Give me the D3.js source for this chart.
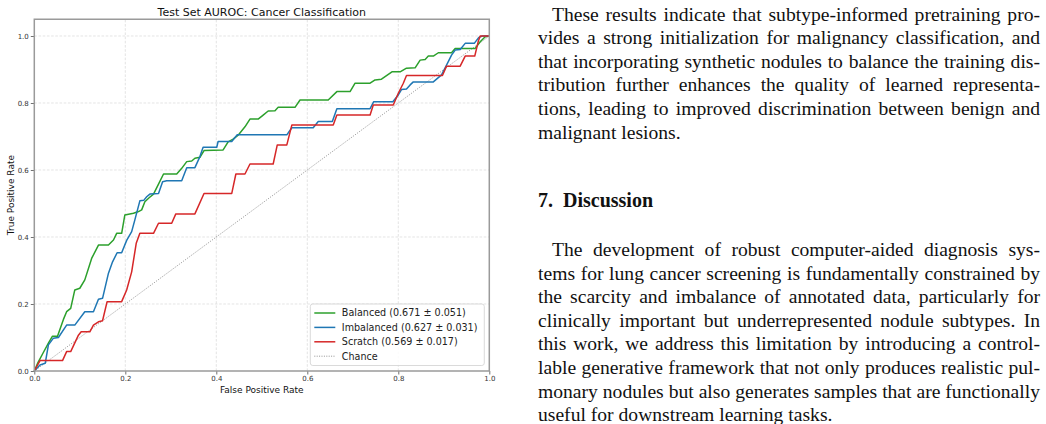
<!DOCTYPE html>
<html>
<head>
<meta charset="utf-8">
<script src="https://cdn.jsdelivr.net/npm/d3@7"></script>
<style>
  body { margin: 0; background: #fff; }
  svg { display: block; }
</style>
</head>
<body>
<svg width="1046" height="424"></svg>
<script>
// ROC curves (fpr, tpr)
var balancedFpr = [0, 0.008, 0.019, 0.031, 0.040, 0.051, 0.064, 0.071, 0.080, 0.089, 0.100, 0.111, 0.126, 0.141, 0.163, 0.174, 0.181, 0.192, 0.199, 0.218, 0.229, 0.236, 0.243, 0.253, 0.262, 0.273, 0.284, 0.313, 0.324, 0.335, 0.346, 0.353, 0.364, 0.373, 0.415, 0.426, 0.437, 0.448, 0.463, 0.474, 0.492, 0.503, 0.514, 0.529, 0.536, 0.573, 0.584, 0.646, 0.665, 0.694, 0.705, 0.738, 0.749, 0.763, 0.786, 0.804, 0.818, 0.837, 0.848, 0.859, 0.866, 0.877, 0.888, 0.917, 0.925, 0.969, 0.980, 0.991, 1];
var balancedTpr = [0, 0.025, 0.053, 0.083, 0.104, 0.104, 0.154, 0.177, 0.187, 0.242, 0.247, 0.272, 0.336, 0.376, 0.376, 0.391, 0.411, 0.411, 0.466, 0.471, 0.476, 0.481, 0.505, 0.518, 0.528, 0.558, 0.588, 0.588, 0.605, 0.625, 0.627, 0.635, 0.638, 0.658, 0.660, 0.684, 0.692, 0.704, 0.729, 0.752, 0.752, 0.764, 0.776, 0.777, 0.787, 0.787, 0.809, 0.809, 0.834, 0.834, 0.859, 0.859, 0.869, 0.871, 0.893, 0.893, 0.904, 0.905, 0.928, 0.930, 0.940, 0.940, 0.950, 0.950, 0.963, 0.963, 0.983, 0.998, 1];

var imbalancedFpr = [0, 0.0125, 0.024, 0.031, 0.042, 0.053, 0.071, 0.089, 0.111, 0.130, 0.141, 0.150, 0.163, 0.172, 0.182, 0.192, 0.203, 0.214, 0.221, 0.232, 0.241, 0.247, 0.254, 0.273, 0.282, 0.291, 0.324, 0.335, 0.353, 0.364, 0.371, 0.401, 0.404, 0.434, 0.446, 0.555, 0.566, 0.613, 0.624, 0.655, 0.665, 0.738, 0.746, 0.788, 0.800, 0.807, 0.818, 0.826, 0.833, 0.877, 0.895, 0.906, 0.917, 0.925, 0.936, 0.947, 0.967, 0.977, 0.985, 1];
var imbalancedTpr = [0, 0.018, 0.023, 0.078, 0.098, 0.100, 0.137, 0.137, 0.177, 0.177, 0.214, 0.217, 0.292, 0.326, 0.353, 0.353, 0.390, 0.416, 0.451, 0.508, 0.510, 0.520, 0.528, 0.530, 0.565, 0.568, 0.568, 0.607, 0.607, 0.640, 0.668, 0.668, 0.685, 0.685, 0.705, 0.705, 0.726, 0.726, 0.745, 0.745, 0.783, 0.783, 0.804, 0.804, 0.824, 0.840, 0.842, 0.854, 0.863, 0.863, 0.884, 0.913, 0.943, 0.958, 0.960, 0.978, 0.978, 0.996, 1, 1];

var scratchFpr = [0, 0.0125, 0.062, 0.071, 0.080, 0.097, 0.103, 0.122, 0.130, 0.141, 0.150, 0.160, 0.192, 0.203, 0.214, 0.224, 0.232, 0.262, 0.273, 0.302, 0.311, 0.353, 0.373, 0.434, 0.443, 0.463, 0.474, 0.525, 0.534, 0.555, 0.566, 0.657, 0.665, 0.738, 0.745, 0.789, 0.800, 0.811, 0.818, 0.897, 0.906, 0.936, 0.947, 0.968, 0.976, 0.980, 1];
var scratchTpr = [0, 0.031, 0.031, 0.058, 0.058, 0.107, 0.117, 0.117, 0.137, 0.147, 0.150, 0.207, 0.207, 0.242, 0.296, 0.381, 0.411, 0.411, 0.441, 0.441, 0.469, 0.469, 0.530, 0.530, 0.588, 0.588, 0.618, 0.618, 0.675, 0.675, 0.734, 0.734, 0.764, 0.764, 0.794, 0.794, 0.829, 0.859, 0.882, 0.882, 0.910, 0.910, 0.940, 0.940, 0.985, 1, 1];

var seriesNames = ["Balanced", "Imbalanced", "Scratch"];
var seriesAuc = ["0.671 ± 0.051", "0.627 ± 0.031", "0.569 ± 0.017"];
var seriesColors = ["#2ca02c", "#1f77b4", "#d62728"];

var xTicks = [0, 0.2, 0.4, 0.6, 0.8, 1.0];
var yTicks = [0, 0.2, 0.4, 0.6, 0.8, 1.0];

var para1 = [
  "These results indicate that subtype-informed pretraining pro-",
  "vides a strong initialization for malignancy classification, and",
  "that incorporating synthetic nodules to balance the training dis-",
  "tribution further enhances the quality of learned representa-",
  "tions, leading to improved discrimination between benign and",
  "malignant lesions."
];
var heading = "7.\u2002Discussion";
var para2 = [
  "The development of robust computer-aided diagnosis sys-",
  "tems for lung cancer screening is fundamentally constrained by",
  "the scarcity and imbalance of annotated data, particularly for",
  "clinically important but underrepresented nodule subtypes.  In",
  "this work, we address this limitation by introducing a control-",
  "lable generative framework that not only produces realistic pul-",
  "monary nodules but also generates samples that are functionally",
  "useful for downstream learning tasks."
];

var svg = d3.select("svg");
var sans = "'DejaVu Sans', sans-serif";

var x = d3.scaleLinear().domain([0, 1]).range([34.3, 489.3]);
var y = d3.scaleLinear().domain([0, 1.05]).range([371, 19.25]);

var chart = svg.append("g").attr("class", "chart");

// grid
chart.append("g").selectAll("line")
    .data(xTicks.slice(1, -1)).enter().append("line")
    .attr("x1", function(d) { return x(d); })
    .attr("x2", function(d) { return x(d); })
    .attr("y1", y(0)).attr("y2", y(1.05))
    .attr("stroke", "#d9d9d9").attr("stroke-width", 0.7)
    .attr("stroke-dasharray", "2.6,1.6");
chart.append("g").selectAll("line")
    .data(yTicks.slice(1)).enter().append("line")
    .attr("x1", x(0)).attr("x2", x(1))
    .attr("y1", function(d) { return y(d); })
    .attr("y2", function(d) { return y(d); })
    .attr("stroke", "#d9d9d9").attr("stroke-width", 0.7)
    .attr("stroke-dasharray", "2.6,1.6");

// chance diagonal
chart.append("line")
    .attr("x1", x(0)).attr("y1", y(0))
    .attr("x2", x(1)).attr("y2", y(1))
    .attr("stroke", "#777").attr("stroke-width", 0.8)
    .attr("stroke-dasharray", "1,1.4");

var line = d3.line()
    .x(function(d) { return x(d[0]); })
    .y(function(d) { return y(d[1]); });

var curves = [
  d3.zip(balancedFpr, balancedTpr),
  d3.zip(imbalancedFpr, imbalancedTpr),
  d3.zip(scratchFpr, scratchTpr)
];

chart.append("g").selectAll("path")
    .data(curves).enter().append("path")
    .attr("d", line)
    .attr("fill", "none")
    .attr("stroke", function(d, i) { return seriesColors[i]; })
    .attr("stroke-width", 1.5)
    .attr("stroke-linejoin", "round");

// axes
var xAxis = chart.append("g")
    .attr("transform", "translate(0," + y(0) + ")")
    .call(d3.axisBottom(x).tickValues(xTicks).tickSize(3.5).tickPadding(2).tickFormat(d3.format(".1f")));
var yAxis = chart.append("g")
    .attr("transform", "translate(" + x(0) + ",0)")
    .call(d3.axisLeft(y).tickValues(yTicks).tickSize(3.5).tickPadding(2).tickFormat(d3.format(".1f")));
[xAxis, yAxis].forEach(function(a) {
  a.select(".domain").remove();
  a.selectAll("text").attr("font-family", sans).attr("font-size", 7).attr("fill", "#333");
  a.selectAll("line").attr("stroke", "#333").attr("stroke-width", 0.7);
});

// frame
chart.append("rect")
    .attr("x", x(0)).attr("y", y(1.05))
    .attr("width", x(1) - x(0)).attr("height", y(0) - y(1.05))
    .attr("fill", "none").attr("stroke", "#9a9a9a").attr("stroke-width", 1.5);

// titles
chart.append("text")
    .attr("x", (x(0) + x(1)) / 2).attr("y", 15.5)
    .attr("text-anchor", "middle")
    .attr("font-family", sans).attr("font-size", 11).attr("fill", "#111")
    .text("Test Set AUROC: Cancer Classification");
chart.append("text")
    .attr("x", (x(0) + x(1)) / 2).attr("y", 393)
    .attr("text-anchor", "middle")
    .attr("font-family", sans).attr("font-size", 9).attr("fill", "#111")
    .text("False Positive Rate");
chart.append("text")
    .attr("transform", "translate(14," + (y(0) + y(1.05)) / 2 + ") rotate(-90)")
    .attr("text-anchor", "middle")
    .attr("font-family", sans).attr("font-size", 9).attr("fill", "#111")
    .text("True Positive Rate");

// legend
var legW = 174, legH = 61.5;
var legend = chart.append("g")
    .attr("transform", "translate(" + (x(1) - 5 - legW) + "," + (y(0) - 5.5 - legH) + ")");
legend.append("rect")
    .attr("width", legW).attr("height", legH).attr("rx", 2.5)
    .attr("fill", "#fff").attr("fill-opacity", 0.85)
    .attr("stroke", "#d0d0d0").attr("stroke-width", 0.8);

var legendItems = seriesNames.map(function(n, i) {
  return { label: n + " (" + seriesAuc[i] + ")", color: seriesColors[i], dash: null, w: 1.5 };
});
legendItems.push({ label: "Chance", color: "#777", dash: "1,1.4", w: 0.8 });

var row = legend.selectAll("g.item")
    .data(legendItems).enter().append("g")
    .attr("class", "item")
    .attr("transform", function(d, i) { return "translate(0," + (9 + i * 14.4) + ")"; });
row.append("line")
    .attr("x1", 4).attr("x2", 25)
    .attr("stroke", function(d) { return d.color; })
    .attr("stroke-width", function(d) { return d.w; })
    .attr("stroke-dasharray", function(d) { return d.dash; });
row.append("text")
    .attr("x", 31.5).attr("dy", "0.35em")
    .attr("font-family", sans).attr("font-size", 9.6).attr("fill", "#222")
    .text(function(d) { return d.label; });

// body text on the right, justified line by line
var serif = "'Liberation Serif', 'Times New Roman', serif";
var textLeft = 538, textRight = 1040, indent = 14, lineGap = 23.6;

function para(lines, top) {
  lines.forEach(function(ln, i) {
    var last = i === lines.length - 1;
    var x0 = textLeft + (i === 0 ? indent : 0);
    var words = ln.split(/\s+/);
    var t = svg.append("text")
        .attr("y", top + i * lineGap)
        .attr("font-family", serif).attr("font-size", 19.6).attr("fill", "#111");
    var spans = words.map(function(w) { return t.append("tspan").text(w); });
    var widths = spans.map(function(s) { return s.node().getComputedTextLength(); });
    var total = d3.sum(widths);
    var space = last || words.length < 2 ? 4.9 : (textRight - x0 - total) / (words.length - 1);
    var cx = x0;
    spans.forEach(function(s, k) {
      s.attr("x", cx);
      cx += widths[k] + space;
    });
  });
}

para(para1, 20.5);
svg.append("text")
    .attr("x", textLeft).attr("y", 207)
    .attr("font-family", serif).attr("font-size", 20).attr("font-weight", "bold").attr("fill", "#111")
    .text(heading);
para(para2, 256);
</script>
</body>
</html>
